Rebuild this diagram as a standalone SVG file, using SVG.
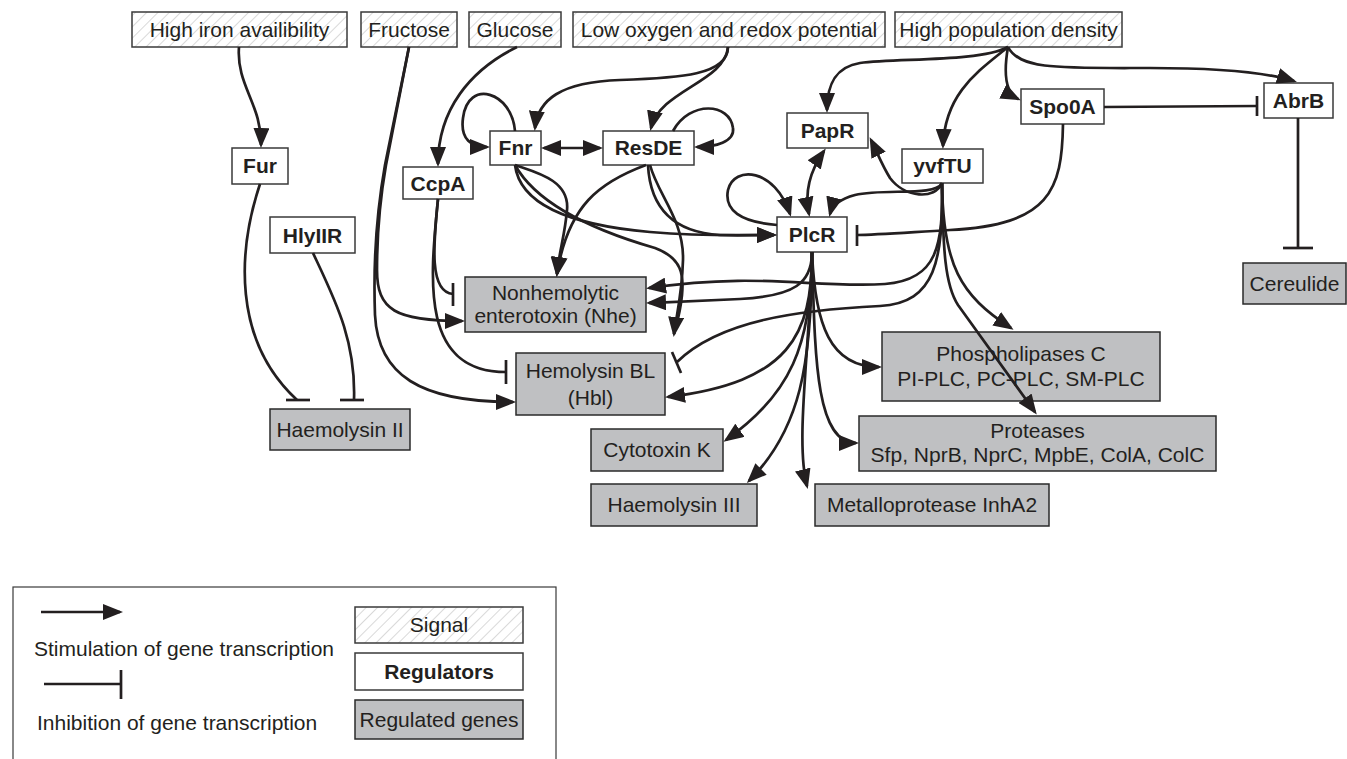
<svg xmlns="http://www.w3.org/2000/svg" width="1347" height="759" viewBox="0 0 1347 759">
<defs>
<pattern id="hatch" width="8" height="8" patternUnits="userSpaceOnUse" patternTransform="rotate(45)">
<rect width="8" height="8" fill="#ffffff"/>
<line x1="0" y1="0" x2="0" y2="8" stroke="#d9d9d9" stroke-width="2"/>
</pattern>
<marker id="arr" viewBox="0 0 20 16" refX="17" refY="8" markerWidth="20" markerHeight="16" markerUnits="userSpaceOnUse" orient="auto-start-reverse">
<path d="M0,0 L20,8 L0,16 z" fill="#231f20"/>
</marker>
<style>
.sig{fill:url(#hatch);stroke:#3a3a3a;stroke-width:1.5}
.reg{fill:#ffffff;stroke:#3a3a3a;stroke-width:1.5}
.gene{fill:#bfc0c2;stroke:#2a2a2a;stroke-width:1.5}
text{font-family:"Liberation Sans",Arial,sans-serif;font-size:21px;fill:#231f20;text-anchor:middle}
.b{font-weight:bold}
.l{text-anchor:start}
.c{fill:none;stroke:#231f20;stroke-width:2.7}
.a{marker-end:url(#arr)}
.bar{stroke:#231f20;stroke-width:2.7;fill:none}
</style>
</defs>
<rect width="1347" height="759" fill="#ffffff"/>

<g id="sig-iron"><rect class="sig" x="132" y="12" width="215" height="35"/><text x="239.5" y="37">High iron availibility</text></g>
<g id="sig-fructose"><rect class="sig" x="361" y="12" width="96" height="35"/><text x="409" y="37">Fructose</text></g>
<g id="sig-glucose"><rect class="sig" x="469" y="12" width="92" height="35"/><text x="515" y="37">Glucose</text></g>
<g id="sig-oxygen"><rect class="sig" x="573" y="12" width="312" height="35"/><text x="729" y="37">Low oxygen and redox potential</text></g>
<g id="sig-population"><rect class="sig" x="895" y="12" width="227" height="35"/><text x="1008.5" y="37">High population density</text></g>

<g id="reg-fur"><rect class="reg" x="232" y="148" width="56" height="36"/><text class="b" x="260" y="173">Fur</text></g>
<g id="reg-ccpa"><rect class="reg" x="403" y="167" width="70" height="32"/><text class="b" x="438" y="191">CcpA</text></g>
<g id="reg-fnr"><rect class="reg" x="490" y="131" width="51" height="34"/><text class="b" x="515.5" y="155">Fnr</text></g>
<g id="reg-resde"><rect class="reg" x="603" y="131" width="91" height="34"/><text class="b" x="648.5" y="155">ResDE</text></g>
<g id="reg-papr"><rect class="reg" x="787" y="113" width="81" height="35"/><text class="b" x="827.5" y="138">PapR</text></g>
<g id="reg-yvftu"><rect class="reg" x="902" y="149" width="81" height="34"/><text class="b" x="942.5" y="173">yvfTU</text></g>
<g id="reg-spo0a"><rect class="reg" x="1021" y="89" width="83" height="35"/><text class="b" x="1062.5" y="114">Spo0A</text></g>
<g id="reg-abrb"><rect class="reg" x="1264" y="83" width="69" height="35"/><text class="b" x="1298.5" y="108">AbrB</text></g>
<g id="reg-plcr"><rect class="reg" x="777" y="217" width="70" height="35"/><text class="b" x="812" y="242">PlcR</text></g>
<g id="reg-hlyiir"><rect class="reg" x="270" y="217" width="85" height="36"/><text class="b" x="312.5" y="243">HlyIIR</text></g>

<g id="gene-cereulide"><rect class="gene" x="1243" y="263" width="103" height="41"/><text x="1294.5" y="291">Cereulide</text></g>
<g id="gene-nhe"><rect class="gene" x="465" y="277" width="181" height="55"/><text x="555.5" y="300">Nonhemolytic</text><text x="555.5" y="323">enterotoxin (Nhe)</text></g>
<g id="gene-hbl"><rect class="gene" x="516" y="353" width="149" height="62"/><text x="590.5" y="378">Hemolysin BL</text><text x="590.5" y="405">(Hbl)</text></g>
<g id="gene-haemolysin2"><rect class="gene" x="270" y="409" width="140" height="41"/><text x="340" y="437">Haemolysin II</text></g>
<g id="gene-cytotoxink"><rect class="gene" x="591" y="429" width="132" height="42"/><text x="657" y="457">Cytotoxin K</text></g>
<g id="gene-haemolysin3"><rect class="gene" x="591" y="484" width="166" height="42"/><text x="674" y="512">Haemolysin III</text></g>
<g id="gene-inha2"><rect class="gene" x="815" y="484" width="234" height="42"/><text x="932" y="512">Metalloprotease InhA2</text></g>
<g id="gene-plc"><rect class="gene" x="882" y="332" width="278" height="69"/><text x="1021" y="361">Phospholipases C</text><text x="1021" y="386">PI-PLC, PC-PLC, SM-PLC</text></g>
<g id="gene-proteases"><rect class="gene" x="859" y="416" width="357" height="55"/><text x="1037.5" y="438">Proteases</text><text x="1037.5" y="462">Sfp, NprB, NprC, MpbE, ColA, ColC</text></g>

<g id="connectors">
<path class="c a" d="M239,47 C236,85 262,105 261,145"/>
<path class="c" d="M260,184 C238,250 232,340 297,400"/>
<line class="bar" x1="286" y1="400" x2="310" y2="400"/>
<path class="c" d="M313,253 C335,300 356,340 354,400"/>
<line class="bar" x1="340" y1="400" x2="364" y2="400"/>
<path class="c a" d="M409,47 L386,165 C379,205 377,245 377,270 C377,310 395,321 462,321"/>
<path class="c a" d="M409,47 L385,165 C377,210 373,260 375,315 C378,375 420,402 513,402"/>
<path class="c a" d="M517,47 C470,70 438,110 438,164"/>
<path class="c" d="M438,199 C434,240 428,292 453,294"/>
<line class="bar" x1="453" y1="283" x2="453" y2="306"/>
<path class="c" d="M438,199 C430,280 420,372 506,372"/>
<line class="bar" x1="506" y1="360" x2="506" y2="384"/>
<path class="c a" d="M728,47 C728,75 680,78 620,80 C560,82 538,100 535,128"/>
<path class="c a" d="M728,47 C725,82 660,90 651,128"/>
<path class="c a" d="M515,131 C512,92 468,78 463,118 C460,140 472,147 487,147"/>
<path class="c a" d="M544,148 L600,148" marker-start="url(#arr)"/>
<path class="c a" d="M673,131 C690,100 730,103 733,128 C735,142 715,147 697,147"/>
<path class="c a" d="M515,165 C520,205 570,225 650,232 C710,237 750,235 774,235"/>
<path class="c a" d="M648,165 C650,205 670,232 720,235 L774,235"/>
<path class="c a" d="M515,165 C535,172 570,180 567,210 C565,235 559,252 557,274"/>
<path class="c a" d="M646,165 C600,182 568,205 557,274"/>
<path class="c" d="M515,165 C540,210 610,235 655,248 C682,258 684,275 682,295 C680,315 676,325 674,334"/>
<path class="c a" d="M650,165 C658,195 684,220 683,260 C682,295 676,318 674,334"/>
<path class="c a" d="M777,225 C740,222 724,210 728,190 C734,165 775,168 790,214"/>
<path class="c a" d="M809,214 C804,190 812,168 824,151" marker-start="url(#arr)"/>
<path class="c a" d="M942,183 C935,197 885,188 855,195 C840,199 832,206 830,214"/>
<path class="c a" d="M942,183 C935,200 905,198 890,178 C882,165 877,152 871,140"/>
<path class="c" d="M1063,124 C1062,190 1050,225 950,230 C900,233 875,235 857,235"/>
<line class="bar" x1="857" y1="225" x2="857" y2="246"/>
<path class="c" d="M1104,107 L1257,106"/>
<line class="bar" x1="1257" y1="96" x2="1257" y2="116"/>
<path class="c" d="M1298,118 L1298,248"/>
<line class="bar" x1="1283" y1="248" x2="1313" y2="248"/>
<path class="c a" d="M1008,47 C1020,70 1060,68 1150,68 C1220,68 1265,72 1294,81"/>
<path class="c a" d="M1008,47 C1004,70 1004,92 1018,99"/>
<path class="c a" d="M1008,47 C980,62 900,58 860,63 C835,67 827,85 827,110"/>
<path class="c a" d="M1008,47 C980,70 945,92 943,146"/>
<path class="c a" d="M942,183 C943,245 938,280 885,284 C810,288 760,272 649,288"/>
<path class="c a" d="M812,252 C812,283 795,296 740,299 C700,301 675,302 649,303"/>
<path class="c" d="M942,183 C943,260 936,303 880,306 C800,310 720,320 677,362"/>
<line class="bar" x1="672" y1="352" x2="681" y2="373"/>
<path class="c a" d="M812,252 C812,335 790,382 668,397"/>
<path class="c a" d="M812,252 C812,345 790,395 726,440"/>
<path class="c a" d="M812,252 C812,365 800,430 749,481"/>
<path class="c a" d="M812,252 C810,350 795,440 807,486"/>
<path class="c a" d="M812,252 C815,355 815,443 856,443"/>
<path class="c a" d="M812,252 C815,325 830,367 879,367"/>
<path class="c a" d="M942,183 C943,265 960,295 1011,328"/>
<path class="c a" d="M942,183 C943,250 945,285 958,305 L1035,412"/>
</g>

<g id="legend">
<rect x="13" y="587" width="543" height="200" fill="none" stroke="#3a3a3a" stroke-width="1.2"/>
<path class="c a" d="M41,612 L120,612"/>
<text class="l" x="34" y="656">Stimulation of gene transcription</text>
<path class="c" d="M44,684 L121,684"/>
<line class="bar" x1="121" y1="670" x2="121" y2="699"/>
<text class="l" x="37" y="730">Inhibition of gene transcription</text>
<rect class="sig" x="355" y="607" width="168" height="36"/><text x="439" y="632">Signal</text>
<rect class="reg" x="355" y="653" width="168" height="37"/><text class="b" x="439" y="679">Regulators</text>
<rect class="gene" x="355" y="700" width="168" height="39"/><text x="439" y="727">Regulated genes</text>
</g>
</svg>
